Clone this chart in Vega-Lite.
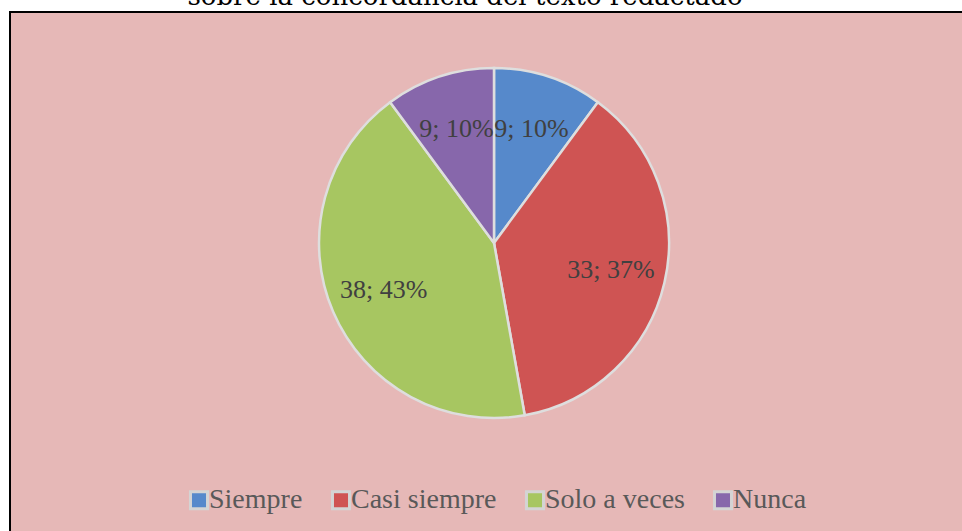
{
  "$schema": "https://vega.github.io/schema/vega-lite/v6.json",
  "autosize": {"type": "none"},
  "padding": {"left": 10, "top": 12, "right": -4, "bottom": -4},
  "width": 956,
  "height": 523,
  "background": "white",
  "view": {"fill": "#e6b8b7", "stroke": "#000000", "strokeWidth": 2},
  "title": {
    "text": "sobre la concordancia del texto redactado",
    "anchor": "middle",
    "font": "DejaVu Serif",
    "fontSize": 26,
    "fontWeight": "normal",
    "color": "#000000",
    "baseline": "alphabetic",
    "dx": -23,
    "dy": 25,
    "offset": 6
  },
  "data": {
    "values": [
      {"categoria": "Siempre", "valor": 9, "orden": 1, "etiqueta": "9; 10%"},
      {"categoria": "Casi siempre", "valor": 33, "orden": 2, "etiqueta": "33; 37%"},
      {"categoria": "Solo a veces", "valor": 38, "orden": 3, "etiqueta": "38; 43%"},
      {"categoria": "Nunca", "valor": 9, "orden": 4, "etiqueta": "9; 10%"}
    ]
  },
  "encoding": {
    "theta": {"field": "valor", "type": "quantitative", "stack": true},
    "order": {"field": "orden", "type": "quantitative"}
  },
  "layer": [
    {
      "mark": {"type": "arc", "outerRadius": 175, "stroke": "#dedede", "strokeWidth": 2.5, "xOffset": 6, "yOffset": -30.5},
      "encoding": {
        "color": {
          "field": "categoria",
          "type": "nominal",
          "scale": {
            "domain": ["Siempre", "Casi siempre", "Solo a veces", "Nunca"],
            "range": ["#5689cb", "#cf5453", "#a7c661", "#8767ab"]
          },
          "legend": {
            "title": null,
            "orient": "none",
            "direction": "horizontal",
            "columns": 4,
            "legendX": 175,
            "legendY": 474,
            "symbolType": "square",
            "symbolSize": 290,
            "symbolStrokeColor": "#d4d4d4",
            "symbolStrokeWidth": 3,
            "symbolOpacity": 1,
            "labelFont": "Liberation Serif",
            "labelFontSize": 28,
            "labelColor": "#595959",
            "labelOffset": -4,
            "columnPadding": 23,
            "labelLimit": 300
          }
        }
      }
    },
    {
      "mark": {"type": "text", "radius": 120, "font": "Liberation Serif", "fontSize": 26, "color": "#404040", "xOffset": 6, "yOffset": -30.5},
      "encoding": {
        "text": {"field": "etiqueta", "type": "nominal"}
      }
    }
  ]
}
